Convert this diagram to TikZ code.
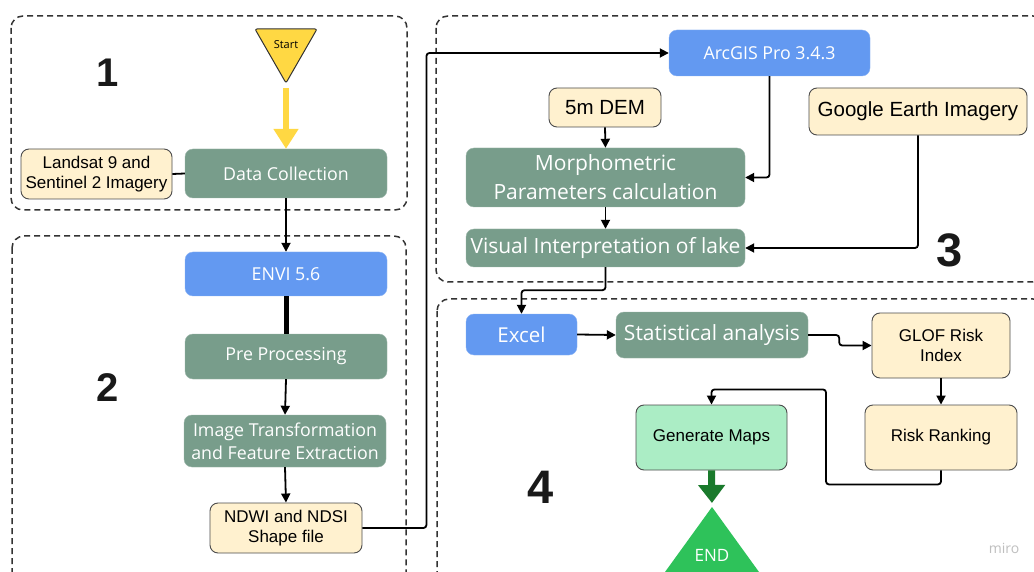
\documentclass[tikz,border=0pt]{standalone}
\usepackage{fontspec}
\setmainfont{Liberation Sans}
\newfontfamily\opensans{Open Sans}
\usetikzlibrary{arrows.meta}
\definecolor{procgreen}{HTML}{789D8B}
\definecolor{toolblue}{HTML}{6399F1}
\definecolor{datacream}{HTML}{FFF1CF}
\definecolor{mapgreen}{HTML}{ABEDC5}
\definecolor{startyellow}{HTML}{FFD843}
\definecolor{endgreen}{HTML}{2EC25A}
\definecolor{darkgreen}{HTML}{1A7A2C}

\begin{document}
\begin{tikzpicture}[x=1pt,y=-1pt,
  region/.style={draw=black!80,dashed,dash pattern=on 6pt off 4pt,line width=1.5pt,rounded corners=12pt},
  procbox/.style={draw=procgreen!75!white,fill=procgreen,rounded corners=8pt,text=white,align=center,inner sep=0pt,
    font=\opensans\fontsize{17.8}{23}\selectfont},
  toolbox/.style={procbox,draw=toolblue!75!white,fill=toolblue},
  databox/.style={draw=black!70,fill=datacream,rounded corners=8pt,align=center,inner sep=0pt,line width=0.9pt,
    font=\fontsize{17}{20}\selectfont},
  bigtext/.style={font=\opensans\fontsize{21}{29}\selectfont},
  numlabel/.style={font=\bfseries\fontsize{40}{40}\selectfont,text=black!90},
  arr/.style={-{Triangle[length=9pt,width=9pt]},line width=1.8pt,rounded corners=3pt},
  line/.style={line width=1.8pt,rounded corners=3pt}]
  \useasboundingbox (0,0) rectangle (1034,572);
  \fill[white] (0,0) rectangle (1034,572);
  \clip (0,0) rectangle (1034,572);

  \draw[region] (11,16) rectangle (407,210);
  \draw[region] (12,236) rectangle (406,600);
  \draw[region] (436,16) rectangle (1045,282);
  \draw[region] (437,299) rectangle (1045,600);

  \node[numlabel] (n1) at (108,73) {1};
  \node[numlabel] (n2) at (108,388) {2};
  \node[numlabel,font=\bfseries\fontsize{47}{47}\selectfont] (n3) at (950,250) {3};
  \node[numlabel,font=\bfseries\fontsize{47}{47}\selectfont] (n4) at (541,487) {4};

  \draw[fill=startyellow,draw=black!80,line width=1pt,rounded corners=2pt] (255,29) -- (317,29) -- (286,83) -- cycle;
  \coordinate (starttip) at (286,83);
  \node[font=\opensans\fontsize{11}{11}\selectfont] (start) at (286,45) {Start};

  \node[procbox,minimum width=202pt,minimum height=49pt] (dc) at (286,173.5) {Data Collection};
  \node[databox,minimum width=151pt,minimum height=50pt] (landsat) at (96.5,174) {Landsat 9 and\\Sentinel 2 Imagery};
  \node[toolbox,minimum width=202pt,minimum height=44pt] (envi) at (286,274) {ENVI 5.6};
  \node[procbox,minimum width=202pt,minimum height=45pt] (pre) at (286,356.5) {Pre Processing};
  \node[procbox,minimum width=202pt,minimum height=52pt] (imgtr) at (285,441) {Image Transformation\\and Feature Extraction};
  \node[databox,minimum width=152pt,minimum height=50pt] (ndwi) at (286,528) {NDWI and NDSI\\Shape file};

  \node[toolbox,minimum width=201pt,minimum height=46pt] (arcgis) at (769.5,53) {ArcGIS Pro 3.4.3};
  \node[databox,minimum width=112pt,minimum height=39pt,font=\fontsize{20.5}{22}\selectfont] (dem) at (605,107.5) {5m DEM};
  \node[databox,minimum width=218pt,minimum height=47pt,font=\fontsize{20.5}{22}\selectfont] (google) at (918,111.5) {Google Earth Imagery};
  \node[procbox,bigtext,minimum width=279pt,minimum height=59pt] (morph) at (605.5,177.5) {Morphometric\\Parameters calculation};
  \node[procbox,bigtext,minimum width=279pt,minimum height=38pt] (visual) at (605.5,248) {Visual Interpretation of lake};

  \node[toolbox,bigtext,font=\opensans\fontsize{20.5}{20.5}\selectfont,minimum width=111pt,minimum height=41pt] (excel) at (521.5,334.5) {Excel};
  \node[procbox,bigtext,minimum width=192pt,minimum height=46pt] (stat) at (712,335) {Statistical analysis};
  \node[databox,minimum width=138pt,minimum height=65pt] (glof) at (941,345.5) {GLOF Risk\\Index};
  \node[databox,minimum width=152pt,minimum height=65pt] (rank) at (941,437.5) {Risk Ranking};
  \node[databox,fill=mapgreen,minimum width=151pt,minimum height=65pt] (maps) at (711.5,437.5) {Generate Maps};

  \draw[fill=endgreen,draw=none] (712,507) -- (665,572) -- (759,572) -- cycle;
  \coordinate (endtip) at (712,507);
  \node[text=white,font=\opensans\fontsize{17}{17}\selectfont] (end) at (712,555) {END};
  \node[text=black!25,font=\opensans\fontsize{14}{14}\selectfont] (miro) at (1004,548) {miro};

  \draw[-{Triangle[length=20pt,width=24pt]},line width=6pt,startyellow,shorten <=5pt] (starttip) -- (dc.north);
  \draw[line] (landsat.east) -- (dc.west);
  \draw[arr] (dc.south) -- (envi.north);
  \draw[line width=5pt] (envi.south) -- (pre.north);
  \draw[arr] (pre.south) -- (imgtr.north);
  \draw[arr] (imgtr.south) -- (ndwi.north);
  \draw[arr] (ndwi.east) -- ++(64,0) |- (arcgis.west);
  \draw[arr] (arcgis.south) |- (morph.east);
  \draw[arr] (dem.south) -- (morph.north);
  \draw[arr] (morph.south) -- (visual.north);
  \draw[arr] (google.south) |- (visual.east);
  \draw[arr] (visual.south) -- ++(0,23) -| (excel.north);
  \draw[arr] (excel.east) -- (stat.west);
  \draw[arr] (stat.east) -- ++(31,0) |- (glof.west);
  \draw[arr] (glof.south) -- (rank.north);
  \draw[arr] (rank.south) -- ++(0,14) -| ++(-115,-95) -| (maps.north);
  \draw[-{Triangle[length=18pt,width=26pt]},line width=7pt,darkgreen,shorten >=4pt] (maps.south) -- (endtip);
\end{tikzpicture}
\end{document}
